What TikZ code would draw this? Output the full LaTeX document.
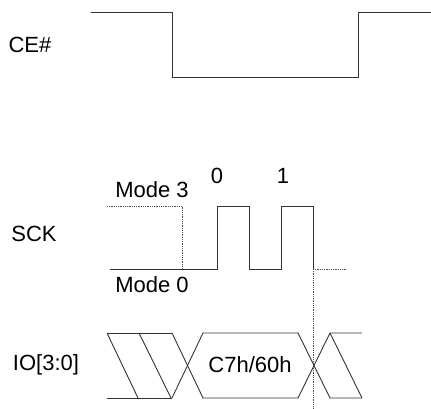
\documentclass[tikz,border=0pt]{standalone}
\usepackage{fontspec}
\setmainfont{Liberation Sans}
\begin{document}
\begin{tikzpicture}[x=1pt,y=-1pt,
  sig/.style={draw=black!80,line width=0.9pt},
  guide/.style={draw=black!70,densely dotted,line width=0.8pt},
  lbl/.style={font=\fontsize{22}{26}\selectfont,inner sep=0pt}]
\useasboundingbox (0,0) rectangle (431,409);
% CE#
\node[lbl] (ce) at (30,45) {CE\#};
\draw[sig] (91,12) -- (172,12) -- (172,77) -- (358,77) -- (358,12) -- (431,12);

% SCK
\node[lbl] (sck) at (34,234) {SCK};
\node[lbl] (mthree) at (152,190) {Mode 3};
\node[lbl] (mzero) at (152,285) {Mode 0};
\node[lbl] (clk0) at (217,176) {0};
\node[lbl] (clk1) at (283,176) {1};
\draw[guide] (107,206) -- (182,206) -- (182,269);
\draw[sig] (110,269) -- (217,269) -- (217,206) -- (249,206) -- (249,269)
   -- (281,269) -- (281,206) -- (313,206) -- (313,269);
\draw[guide] (313,269) -- (346,269);
\draw[guide] (313,269) -- (313,409);

% IO[3:0]
\node[lbl] (io) at (46,365) {IO[3:0]};
\node[lbl] (cmd) at (250,365) {C7h/60h};
\draw[sig] (107,333) -- (172,333) (107,398) -- (172,398);
\draw[sig] (107,333) -- (138,398) (139,333) -- (171,398);
\draw[sig] (172,333) -- (203,398) -- (298,398) -- (330,333) -- (362,333);
\draw[sig] (172,398) -- (203,333) -- (298,333) -- (330,398) -- (362,398);
\draw[sig] (330,333) -- (362,398);
\end{tikzpicture}
\end{document}
